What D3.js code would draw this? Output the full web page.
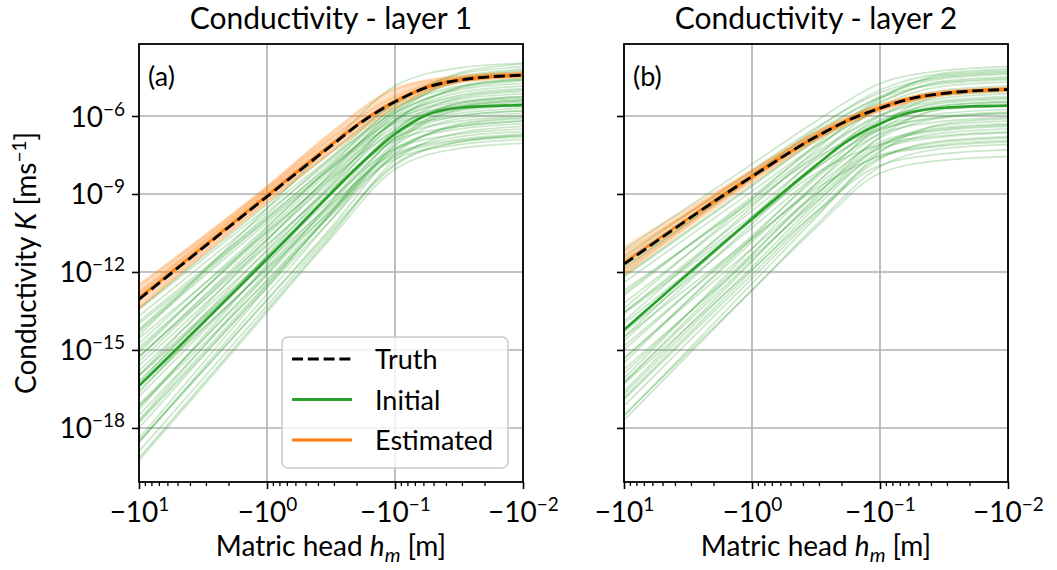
<!DOCTYPE html>
<html>
<head>
<meta charset="utf-8">
<script src="https://cdn.jsdelivr.net/npm/d3@7"></script>
<style>
  body { margin: 0; background: #fff; }
  text { font-family: Lato, "DejaVu Sans", sans-serif; fill: #000; }
</style>
</head>
<body>
<svg id="chart" width="1057" height="570"></svg>
<script>
// matric head h_m = -10^e  (e below), conductivity stored as log10 K [m/s]
const headExp = [1, 0, -0.5, -0.75, -1, -1.25, -1.5, -2];

const truth1 = [-13.05, -9.10, -7.15, -6.20, -5.45, -4.90, -4.62, -4.43];
const est1   = [-13.00, -9.07, -7.12, -6.17, -5.43, -4.89, -4.61, -4.42];
const init1  = [-16.38, -11.50, -8.98, -7.76, -6.69, -5.96, -5.68, -5.58];

const truth2 = [-11.70, -8.33, -6.80, -6.17, -5.70, -5.32, -5.13, -4.98];
const est2   = [-11.66, -8.31, -6.79, -6.16, -5.69, -5.31, -5.12, -4.97];
const init2  = [-14.23, -9.95, -7.90, -6.95, -6.30, -5.85, -5.68, -5.60];

// ensemble members, sampled at these exponents
const ensExp = [1, 0, -0.5, -1, -1.5, -2];

const initEns1 = [
  [-14.45, -9.55, -7.1, -4.85, -4.15, -3.97], [-14.2, -9.8, -7.6, -5.5, -4.4, -4.1],
  [-13.4, -9.4, -7.4, -5.5, -4.5, -4.2], [-16.0, -10.8, -8.2, -5.75, -4.6, -4.3],
  [-14.25, -9.95, -7.8, -5.8, -4.7, -4.45], [-17.3, -11.7, -8.9, -6.2, -4.9, -4.55],
  [-14.75, -10.25, -8.0, -5.9, -4.95, -4.65], [-13.45, -9.55, -7.6, -5.85, -5.0, -4.75],
  [-16.25, -11.15, -8.6, -6.15, -5.1, -4.85], [-14.3, -10.1, -8.0, -6.05, -5.2, -4.95],
  [-17.7, -12.1, -9.3, -6.55, -5.3, -5.05], [-15.45, -10.75, -8.4, -6.2, -5.35, -5.15],
  [-13.9, -9.9, -7.9, -6.15, -5.45, -5.25], [-16.35, -11.45, -9.0, -6.6, -5.55, -5.35],
  [-15.25, -10.75, -8.5, -6.4, -5.65, -5.45], [-18.55, -12.85, -10.0, -7.1, -5.75, -5.5],
  [-15.8, -11.2, -8.9, -6.7, -5.8, -5.6], [-17.2, -12.0, -9.4, -6.85, -5.9, -5.7],
  [-14.55, -10.45, -8.4, -6.6, -6.0, -5.8], [-17.75, -12.45, -9.8, -7.15, -6.1, -5.9],
  [-16.2, -11.4, -9.0, -6.85, -6.2, -6.0], [-18.55, -13.05, -10.3, -7.45, -6.35, -6.1],
  [-15.25, -10.95, -8.8, -6.95, -6.4, -6.2], [-17.1, -12.1, -9.6, -7.25, -6.5, -6.3],
  [-19.15, -13.45, -10.6, -7.7, -6.65, -6.4], [-15.95, -11.45, -9.2, -7.25, -6.7, -6.5],
  [-17.8, -12.6, -10.0, -7.55, -6.8, -6.6], [-16.55, -11.85, -9.5, -7.45, -6.9, -6.7],
  [-18.5, -13.1, -10.4, -7.85, -7.0, -6.8], [-17.15, -12.35, -9.8, -7.65, -7.1, -6.9],
  [-19.25, -13.55, -10.7, -8.05, -7.25, -7.05], [-15.0, -10.4, -8.1, -5.9, -4.6, -4.25],
  [-18.4, -12.6, -9.7, -6.8, -5.5, -5.3], [-16.0, -11.6, -9.4, -7.35, -6.3, -6.05],
  [-15.1, -10.3, -7.9, -5.6, -4.35, -4.0], [-16.65, -11.35, -8.7, -6.15, -5.25, -5.0],
  [-13.7, -9.7, -7.7, -5.7, -4.85, -4.6], [-14.9, -10.5, -8.3, -6.25, -5.6, -5.4],
  [-15.6, -11.0, -8.7, -6.5, -5.5, -5.25], [-16.8, -11.8, -9.3, -6.9, -6.0, -5.8],
  [-17.5, -12.3, -9.7, -7.3, -6.4, -6.2], [-18.0, -12.5, -9.75, -7.0, -5.65, -5.4],
  [-18.9, -13.3, -10.5, -7.9, -7.0, -6.75], [-14.0, -10.0, -8.0, -6.3, -5.75, -5.55],
  [-15.3, -10.6, -8.25, -6.0, -4.9, -4.6], [-16.4, -11.9, -9.65, -7.55, -6.95, -6.75]
];

const estEns1 = [
  [-12.50, -8.75, -6.65, -4.95, -4.47, -4.33], [-12.55, -8.72, -6.70, -5.00, -4.50, -4.35],
  [-12.65, -8.80, -6.80, -5.10, -4.54, -4.38], [-12.75, -8.90, -6.90, -5.20, -4.56, -4.39],
  [-12.80, -8.85, -6.85, -5.25, -4.57, -4.40], [-12.85, -8.95, -7.00, -5.30, -4.58, -4.41],
  [-12.95, -9.02, -7.05, -5.37, -4.60, -4.42], [-13.00, -9.05, -7.08, -5.40, -4.61, -4.43],
  [-13.05, -9.08, -7.12, -5.42, -4.62, -4.43], [-13.15, -9.15, -7.20, -5.50, -4.64, -4.45],
  [-13.25, -9.20, -7.27, -5.55, -4.66, -4.47], [-13.35, -9.28, -7.35, -5.63, -4.68, -4.49],
  [-13.40, -9.32, -7.41, -5.70, -4.70, -4.51], [-12.90, -9.00, -7.10, -5.45, -4.62, -4.44]
];

const initEns2 = [
  [-11.15, -7.85, -6.2, -4.75, -4.25, -4.1], [-11.9, -8.3, -6.5, -5.0, -4.35, -4.2],
  [-11.8, -8.4, -6.7, -5.25, -4.45, -4.3], [-13.4, -9.2, -7.1, -5.3, -4.55, -4.4],
  [-12.15, -8.65, -6.9, -5.45, -4.7, -4.55], [-14.5, -9.9, -7.6, -5.65, -4.85, -4.7],
  [-12.9, -9.1, -7.2, -5.7, -5.0, -4.85], [-14.65, -10.15, -7.9, -6.0, -5.15, -5.0],
  [-12.8, -9.2, -7.4, -5.95, -5.3, -5.15], [-15.5, -10.7, -8.3, -6.3, -5.45, -5.3],
  [-13.55, -9.65, -7.7, -6.15, -5.6, -5.45], [-15.35, -10.85, -8.6, -6.65, -5.75, -5.6],
  [-13.55, -9.85, -8.0, -6.45, -5.9, -5.75], [-16.25, -11.35, -8.9, -6.85, -6.05, -5.9],
  [-14.3, -10.3, -8.3, -6.7, -6.2, -6.05], [-16.25, -11.55, -9.2, -7.15, -6.35, -6.2],
  [-14.85, -10.75, -8.7, -7.0, -6.5, -6.35], [-16.85, -11.95, -9.5, -7.35, -6.65, -6.5],
  [-15.3, -11.1, -9.0, -7.25, -6.8, -6.65], [-17.15, -12.25, -9.8, -7.65, -6.95, -6.8],
  [-15.75, -11.45, -9.3, -7.5, -7.1, -6.95], [-17.7, -12.7, -10.2, -7.95, -7.25, -7.1],
  [-16.3, -11.9, -9.7, -7.9, -7.45, -7.3], [-17.5, -12.7, -10.3, -8.2, -7.7, -7.56],
  [-13.9, -9.5, -7.3, -5.35, -4.4, -4.25], [-16.1, -11.1, -8.6, -6.35, -5.2, -5.05],
  [-12.7, -9.3, -7.6, -6.5, -6.0, -5.85], [-13.6, -10.0, -8.2, -7.1, -6.75, -6.6],
  [-11.55, -8.25, -6.6, -5.3, -4.75, -4.6], [-16.6, -11.6, -9.1, -6.8, -5.7, -5.5],
  [-14.5, -10.7, -8.8, -7.55, -7.15, -7.0], [-17.55, -12.45, -9.9, -7.4, -6.3, -6.1],
  [-11.4, -8.1, -6.45, -5.1, -4.5, -4.35], [-12.4, -8.9, -7.15, -5.75, -5.1, -4.95],
  [-13.2, -9.4, -7.5, -6.0, -5.4, -5.25], [-14.0, -10.0, -8.0, -6.55, -6.05, -5.9],
  [-15.0, -10.6, -8.4, -6.5, -5.6, -5.45], [-15.9, -11.3, -9.0, -7.1, -6.55, -6.4],
  [-16.9, -12.1, -9.7, -7.6, -7.0, -6.85], [-12.2, -8.7, -6.95, -5.5, -4.65, -4.5],
  [-14.2, -10.0, -7.9, -6.2, -5.5, -5.35], [-16.7, -11.8, -9.35, -7.2, -6.45, -6.3]
];

const estEns2 = [
  [-11.05, -8.08, -6.62, -5.58, -5.06, -4.92], [-11.20, -8.15, -6.67, -5.61, -5.08, -4.93],
  [-11.35, -8.20, -6.72, -5.64, -5.10, -4.95], [-11.50, -8.26, -6.76, -5.67, -5.11, -4.96],
  [-11.60, -8.30, -6.78, -5.69, -5.12, -4.97], [-11.80, -8.37, -6.83, -5.72, -5.14, -4.99],
  [-11.90, -8.42, -6.86, -5.75, -5.16, -5.01], [-12.00, -8.48, -6.90, -5.78, -5.18, -5.03],
  [-12.10, -8.55, -6.95, -5.82, -5.20, -5.05], [-11.25, -8.25, -6.75, -5.68, -5.12, -4.97],
  [-12.05, -8.40, -6.82, -5.70, -5.13, -4.98], [-11.45, -8.12, -6.65, -5.60, -5.07, -4.93]
];

const xTickExp = [1, 0, -1, -2];
const yTickExp = [-18, -15, -12, -9, -6];
const titles = ["Conductivity - layer 1", "Conductivity - layer 2"];
const tags = ["(a)", "(b)"];
const legendNames = ["Truth", "Initial", "Estimated"];

const green = "#2ca02c", orange = "#ff7f0e";
const W = 384, H = 438, TOP = 44;
const lefts = [139, 624];

const svg = d3.select("#chart");

const x = d3.scaleLog().domain([10, 0.01]).range([0, W]);
const y = d3.scaleLog().domain([Math.pow(10, -20.08), Math.pow(10, -3.23)]).range([H, 0]);

const line = d3.line()
  .x(d => x(Math.pow(10, d[0])))
  .y(d => y(Math.pow(10, d[1])))
  .curve(d3.curveMonotoneX);

function expStr(e) { return e < 0 ? "\u2212" + (-e) : String(e); }

const panels = [
  { truth: truth1, est: est1, init: init1, initEns: initEns1, estEns: estEns1 },
  { truth: truth2, est: est2, init: init2, initEns: initEns2, estEns: estEns2 }
];

panels.forEach((p, i) => {
  const g = svg.append("g").attr("transform", `translate(${lefts[i]},${TOP})`);

  g.append("clipPath").attr("id", "clip" + i)
    .append("rect").attr("width", W).attr("height", H);

  // grid
  g.append("g").selectAll("line").data(xTickExp).join("line")
    .attr("x1", e => x(Math.pow(10, e))).attr("x2", e => x(Math.pow(10, e)))
    .attr("y1", 0).attr("y2", H)
    .attr("stroke", "#b0b0b0").attr("stroke-width", 1.6);
  g.append("g").selectAll("line").data(yTickExp).join("line")
    .attr("y1", e => y(Math.pow(10, e))).attr("y2", e => y(Math.pow(10, e)))
    .attr("x1", 0).attr("x2", W)
    .attr("stroke", "#b0b0b0").attr("stroke-width", 1.6);

  const plot = g.append("g").attr("clip-path", `url(#clip${i})`);

  plot.selectAll("path.ie").data(p.initEns).join("path").attr("class", "ie")
    .attr("d", m => line(d3.zip(ensExp, m)))
    .attr("fill", "none").attr("stroke", green).attr("stroke-opacity", 0.25).attr("stroke-width", 1.7);

  plot.selectAll("path.ee").data(p.estEns).join("path").attr("class", "ee")
    .attr("d", m => line(d3.zip(ensExp, m)))
    .attr("fill", "none").attr("stroke", orange).attr("stroke-opacity", 0.22).attr("stroke-width", 2.6);

  plot.append("path").attr("d", line(d3.zip(headExp, p.init)))
    .attr("fill", "none").attr("stroke", green).attr("stroke-width", 2.6);
  plot.append("path").attr("d", line(d3.zip(headExp, p.est)))
    .attr("fill", "none").attr("stroke", orange).attr("stroke-width", 2.6);
  plot.append("path").attr("d", line(d3.zip(headExp, p.truth)))
    .attr("fill", "none").attr("stroke", "#000").attr("stroke-width", 2.9)
    .attr("stroke-dasharray", "11,4.8");

  // x axis: major + minor ticks
  const xMinor = x.ticks().filter(v => Math.abs(Math.log10(v) - Math.round(Math.log10(v))) > 1e-6);
  g.append("g").attr("transform", `translate(0,${H})`)
    .call(d3.axisBottom(x).tickValues(xMinor).tickSize(4).tickFormat(""))
    .call(a => a.select(".domain").remove())
    .call(a => a.selectAll("line").attr("stroke-width", 1.3));

  const xa = g.append("g").attr("transform", `translate(0,${H})`)
    .call(d3.axisBottom(x).tickValues(xTickExp.map(e => Math.pow(10, e))).tickSize(7).tickSizeOuter(0))
    .call(a => a.select(".domain").remove())
    .call(a => a.selectAll("line").attr("stroke-width", 1.6));
  xa.selectAll(".tick text").each(function(d, k) {
    const t = d3.select(this).text(null).attr("y", 40).attr("dy", null)
      .attr("font-size", 28).attr("font-family", null);
    t.append("tspan").text("\u221210");
    t.append("tspan").attr("font-size", 19).attr("dy", -11).text(expStr(xTickExp[k]));
  });

  const ya = g.append("g")
    .call(d3.axisLeft(y).tickValues(yTickExp.map(e => Math.pow(10, e))).tickSize(7).tickSizeOuter(0))
    .call(a => a.select(".domain").remove())
    .call(a => a.selectAll("line").attr("stroke-width", 1.6));
  ya.selectAll(".tick text").each(function(d, k) {
    const t = d3.select(this).text(null);
    if (i > 0) return;
    t.attr("x", -14).attr("dy", 10).attr("font-size", 28).attr("font-family", null);
    t.append("tspan").text("10");
    t.append("tspan").attr("font-size", 19).attr("dy", -11).text(expStr(yTickExp[k]));
  });

  // frame
  g.append("rect").attr("width", W).attr("height", H)
    .attr("fill", "none").attr("stroke", "#000").attr("stroke-width", 1.8);

  g.append("text").attr("x", W / 2).attr("y", -15).attr("text-anchor", "middle")
    .attr("font-size", 30).text(titles[i]);
  g.append("text").attr("x", 9).attr("y", 42).attr("font-size", 27).text(tags[i]);

  const xl = g.append("text").attr("x", W / 2).attr("y", H + 74)
    .attr("text-anchor", "middle").attr("font-size", 28);
  xl.append("tspan").text("Matric head ");
  xl.append("tspan").attr("font-style", "italic").text("h");
  xl.append("tspan").attr("font-style", "italic").attr("font-size", 20).attr("dy", 6).text("m");
  xl.append("tspan").attr("dy", -6).text(" [m]");

  if (i === 0) {
    const yl = g.append("text")
      .attr("transform", `translate(-103,${H / 2}) rotate(-90)`)
      .attr("text-anchor", "middle").attr("font-size", 28);
    yl.append("tspan").text("Conductivity ");
    yl.append("tspan").attr("font-style", "italic").text("K");
    yl.append("tspan").text(" [ms");
    yl.append("tspan").attr("font-size", 19).attr("dy", -10).text("\u22121");
    yl.append("tspan").attr("dy", 10).text("]");

    // legend
    const lg = g.append("g").attr("transform", "translate(143,293)");
    lg.append("rect").attr("width", 226).attr("height", 131).attr("rx", 6)
      .attr("fill", "#fff").attr("fill-opacity", 0.8)
      .attr("stroke", "#cccccc").attr("stroke-width", 1.6);
    const styles = [
      { c: "#000", dash: "11,4.8" }, { c: green, dash: null }, { c: orange, dash: null }
    ];
    legendNames.forEach((name, k) => {
      const yy = 22 + k * 40.5;
      lg.append("line").attr("x1", 10).attr("x2", 70).attr("y1", yy).attr("y2", yy)
        .attr("stroke", styles[k].c).attr("stroke-width", 2.9)
        .attr("stroke-dasharray", styles[k].dash);
      lg.append("text").attr("x", 93).attr("y", yy + 10).attr("font-size", 27).text(name);
    });
  }
});
</script>
</body>
</html>
